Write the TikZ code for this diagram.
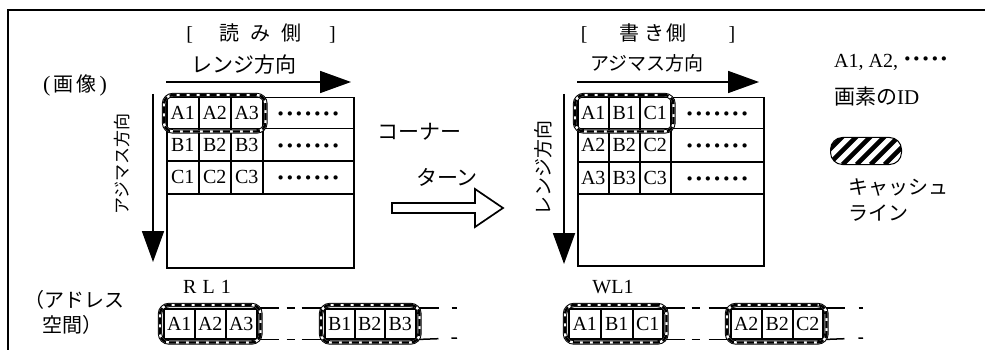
\documentclass[tikz,border=0pt]{standalone}
\usepackage{fontspec}
\setmainfont{Liberation Serif}
\newfontfamily\jp{Noto Sans CJK JP}
\usetikzlibrary{arrows.meta,fit}
\newcommand\fsz[1]{\fontsize{#1}{#1}\selectfont}
\newcommand\bd{{\fsz{26}\textbf{·}}}
\newcommand\sevendots{\raisebox{-3pt}{\bd\hspace{0.5pt}\bd\hspace{0.5pt}\bd\hspace{0.5pt}\bd\hspace{0.5pt}\bd\hspace{0.5pt}\bd\hspace{0.5pt}\bd}\hspace{8pt}}
\begin{document}
\begin{tikzpicture}[x=1pt,y=-1pt,
  cell/.style={draw, line width=1.5pt, inner sep=0pt, anchor=north west, font=\fsz{20}, text height=13pt, text depth=0pt},
  jt/.style={font=\jp\fsz{#1}, inner sep=0pt},
  lt/.style={font=\fsz{#1}, inner sep=0pt},
  cache/.style={draw=white, line width=2.4pt, rounded corners=9pt, inner sep=2pt,
    preaction={draw=black, line width=4.4pt, solid},
    postaction={draw=black, dash pattern=on 7pt off 3pt}},
  bigarrow/.style={line width=1.8pt, -{Triangle[length=31pt,width=22pt]}},
  memline/.style={line width=1.5pt}
]
\useasboundingbox (0,0) rectangle (985,350);
% frame
\draw[line width=2pt] (985,10) -- (8,10) -- (8,350);

% headings
\node[lt=20] (readhd) at (261,33) {[\hspace{26pt}{\jp 読}\hspace{11pt}{\jp み}\hspace{11pt}{\jp 側}\hspace{28pt}]};
\node[lt=20] (writehd) at (658,33) {[\hspace{32pt}{\jp 書}\hspace{5pt}{\jp き}\hspace{2pt}{\jp 側}\hspace{42pt}]};
\node[lt=22] (img) at (75,85) {(\hspace{3pt}{\jp\fsz{20}画\hspace{3pt}像}\hspace{3pt})};

% ---------- left grid ----------
\node[cell, minimum width=32pt, minimum height=31pt] (LA1) at (166,97) {A1};
\node[cell, minimum width=32pt, minimum height=31pt] (LA2) at (198,97) {A2};
\node[cell, minimum width=32pt, minimum height=31pt] (LA3) at (230,97) {A3};
\node[cell, minimum width=91pt, minimum height=31pt] (LAd) at (262,97) {\sevendots};
\node[cell, minimum width=32pt, minimum height=32pt] (LB1) at (166,128) {B1};
\node[cell, minimum width=32pt, minimum height=32pt] (LB2) at (198,128) {B2};
\node[cell, minimum width=32pt, minimum height=32pt] (LB3) at (230,128) {B3};
\node[cell, minimum width=91pt, minimum height=32pt] (LBd) at (262,128) {\sevendots};
\node[cell, minimum width=32pt, minimum height=33pt] (LC1) at (166,160) {C1};
\node[cell, minimum width=32pt, minimum height=33pt] (LC2) at (198,160) {C2};
\node[cell, minimum width=32pt, minimum height=33pt] (LC3) at (230,160) {C3};
\node[cell, minimum width=91pt, minimum height=33pt] (LCd) at (262,160) {\sevendots};
\node[cell, minimum width=187pt, minimum height=74pt] (Lrest) at (166,193) {};
\node[cache, fit=(LA1)(LA3)] (Lcache) {};

% left arrows
\coordinate (lh0) at (166,82); \coordinate (lh1) at (351,82);
\draw[bigarrow] (lh0) -- (lh1);
\node[jt=21] (lrange) at (244,65) {レンジ方向};
\coordinate (lv0) at (153,94); \coordinate (lv1) at (153,262);
\draw[bigarrow] (lv0) -- (lv1);
\node[jt=17, rotate=90] (lazim) at (122,164) {アジマス方向};

% ---------- right grid ----------
\node[cell, minimum width=31pt, minimum height=31pt] (RA1) at (577,97) {A1};
\node[cell, minimum width=31pt, minimum height=31pt] (RB1) at (608,97) {B1};
\node[cell, minimum width=31pt, minimum height=31pt] (RC1) at (639,97) {C1};
\node[cell, minimum width=93pt, minimum height=31pt] (RAd) at (670,97) {\sevendots};
\node[cell, minimum width=31pt, minimum height=33pt] (RA2) at (577,128) {A2};
\node[cell, minimum width=31pt, minimum height=33pt] (RB2) at (608,128) {B2};
\node[cell, minimum width=31pt, minimum height=33pt] (RC2) at (639,128) {C2};
\node[cell, minimum width=93pt, minimum height=33pt] (RBd) at (670,128) {\sevendots};
\node[cell, minimum width=31pt, minimum height=32pt] (RA3) at (577,161) {A3};
\node[cell, minimum width=31pt, minimum height=32pt] (RB3) at (608,161) {B3};
\node[cell, minimum width=31pt, minimum height=32pt] (RC3) at (639,161) {C3};
\node[cell, minimum width=93pt, minimum height=32pt] (RCd) at (670,161) {\sevendots};
\node[cell, minimum width=186pt, minimum height=72pt] (Rrest) at (577,193) {};
\node[cache, fit=(RA1)(RC1)] (Rcache) {};

% right arrows
\coordinate (rh0) at (577,82); \coordinate (rh1) at (759,82);
\draw[bigarrow] (rh0) -- (rh1);
\node[jt=19] (razim) at (647,63) {アジマス方向};
\coordinate (rv0) at (564,94); \coordinate (rv1) at (564,264);
\draw[bigarrow] (rv0) -- (rv1);
\node[jt=19, rotate=90] (rrange) at (543,168) {レンジ方向};

% corner turn
\node[jt=21] (ct1) at (419,132) {コーナー};
\node[jt=21] (ct2) at (447,177) {ターン};
\draw[line width=1.7pt, line join=miter] (392,203) -- (475,203) -- (475,189) -- (503,208) -- (475,227) -- (475,213) -- (392,213) -- cycle;

% legend
\node[lt=20, anchor=west, text height=13pt, text depth=4pt] (legids) at (834,63) {A1, A2, \bd\hspace{0.5pt}\bd\hspace{0.5pt}\bd\hspace{0.5pt}\bd\hspace{0.5pt}\bd};
\node[lt=21, anchor=west] (legid) at (834,97) {{\jp 画素の}ID};
\node[draw, line width=1pt, rounded corners=12pt, minimum width=71pt, minimum height=27pt, anchor=north west,
  path picture={\foreach \k in {-30,-16,...,80} \draw[line width=4.6pt] ([xshift=\k pt]path picture bounding box.south west) -- ++(36pt,36pt);}] (legbox) at (830,137) {};
\node[jt=20, anchor=west] (legc1) at (848,187) {キャッシュ};
\node[jt=20, anchor=west] (legc2) at (848,213) {ライン};

% ---------- address space ----------
\node[jt=20, anchor=west] (addr1) at (24,300) {（アドレス};
\node[jt=20, anchor=west] (addr2) at (42,325) {空間）};
\node[lt=20] (rl1) at (207,287) {R\hspace{6pt}L\hspace{6pt}1};
\node[lt=20] (wl1) at (613,287) {WL1};

% RL1 row
\node[cell, minimum width=31pt, minimum height=30pt] (MA1) at (163,308) {A1};
\node[cell, minimum width=31pt, minimum height=30pt] (MA2) at (194,308) {A2};
\node[cell, minimum width=31pt, minimum height=30pt] (MA3) at (225,308) {A3};
\node[cell, minimum width=30pt, minimum height=30pt] (MB1) at (324,308) {B1};
\node[cell, minimum width=30pt, minimum height=30pt] (MB2) at (354,308) {B2};
\node[cell, minimum width=31pt, minimum height=30pt] (MB3) at (384,308) {B3};
\coordinate (rtailt) at (457,308); \coordinate (rtailb) at (457,338);
\draw[memline, dash pattern=on 21pt off 8pt on 8pt off 7pt on 40pt] (MA3.north east) -- (MB1.north west);
\draw[memline, dash pattern=on 21pt off 8pt on 8pt off 7pt on 40pt] (MA3.south east) -- (MB1.south west);
\draw[memline, dash pattern=on 22pt off 13pt on 7pt off 20pt] (MB3.north east) -- (rtailt);
\draw[memline, dash pattern=on 22pt off 13pt on 7pt off 20pt] (MB3.south east) -- (rtailb);
\node[cache, fit=(MA1)(MA3), inner xsep=3pt, inner ysep=3pt] (MAcache) {};
\node[cache, fit=(MB1)(MB3), inner xsep=3pt, inner ysep=3pt] (MBcache) {};

% WL1 row
\node[cell, minimum width=32pt, minimum height=30pt] (NA1) at (568,308) {A1};
\node[cell, minimum width=32pt, minimum height=30pt] (NB1) at (600,308) {B1};
\node[cell, minimum width=30pt, minimum height=30pt] (NC1) at (632,308) {C1};
\node[cell, minimum width=31pt, minimum height=30pt] (NA2) at (730,308) {A2};
\node[cell, minimum width=31pt, minimum height=30pt] (NB2) at (761,308) {B2};
\node[cell, minimum width=30pt, minimum height=30pt] (NC2) at (792,308) {C2};
\coordinate (wtailt) at (863,308); \coordinate (wtailb) at (863,338);
\draw[memline, dash pattern=on 21pt off 7pt on 8pt off 9pt on 40pt] (NC1.north east) -- (NA2.north west);
\draw[memline, dash pattern=on 21pt off 7pt on 8pt off 9pt on 40pt] (NC1.south east) -- (NA2.south west);
\draw[memline, dash pattern=on 21pt off 14pt on 6pt off 20pt] (NC2.north east) -- (wtailt);
\draw[memline, dash pattern=on 21pt off 14pt on 6pt off 20pt] (NC2.south east) -- (wtailb);
\node[cache, fit=(NA1)(NC1), inner xsep=3pt, inner ysep=3pt] (NAcache) {};
\node[cache, fit=(NA2)(NC2), inner xsep=3pt, inner ysep=3pt] (NBcache) {};
\end{tikzpicture}
\end{document}
